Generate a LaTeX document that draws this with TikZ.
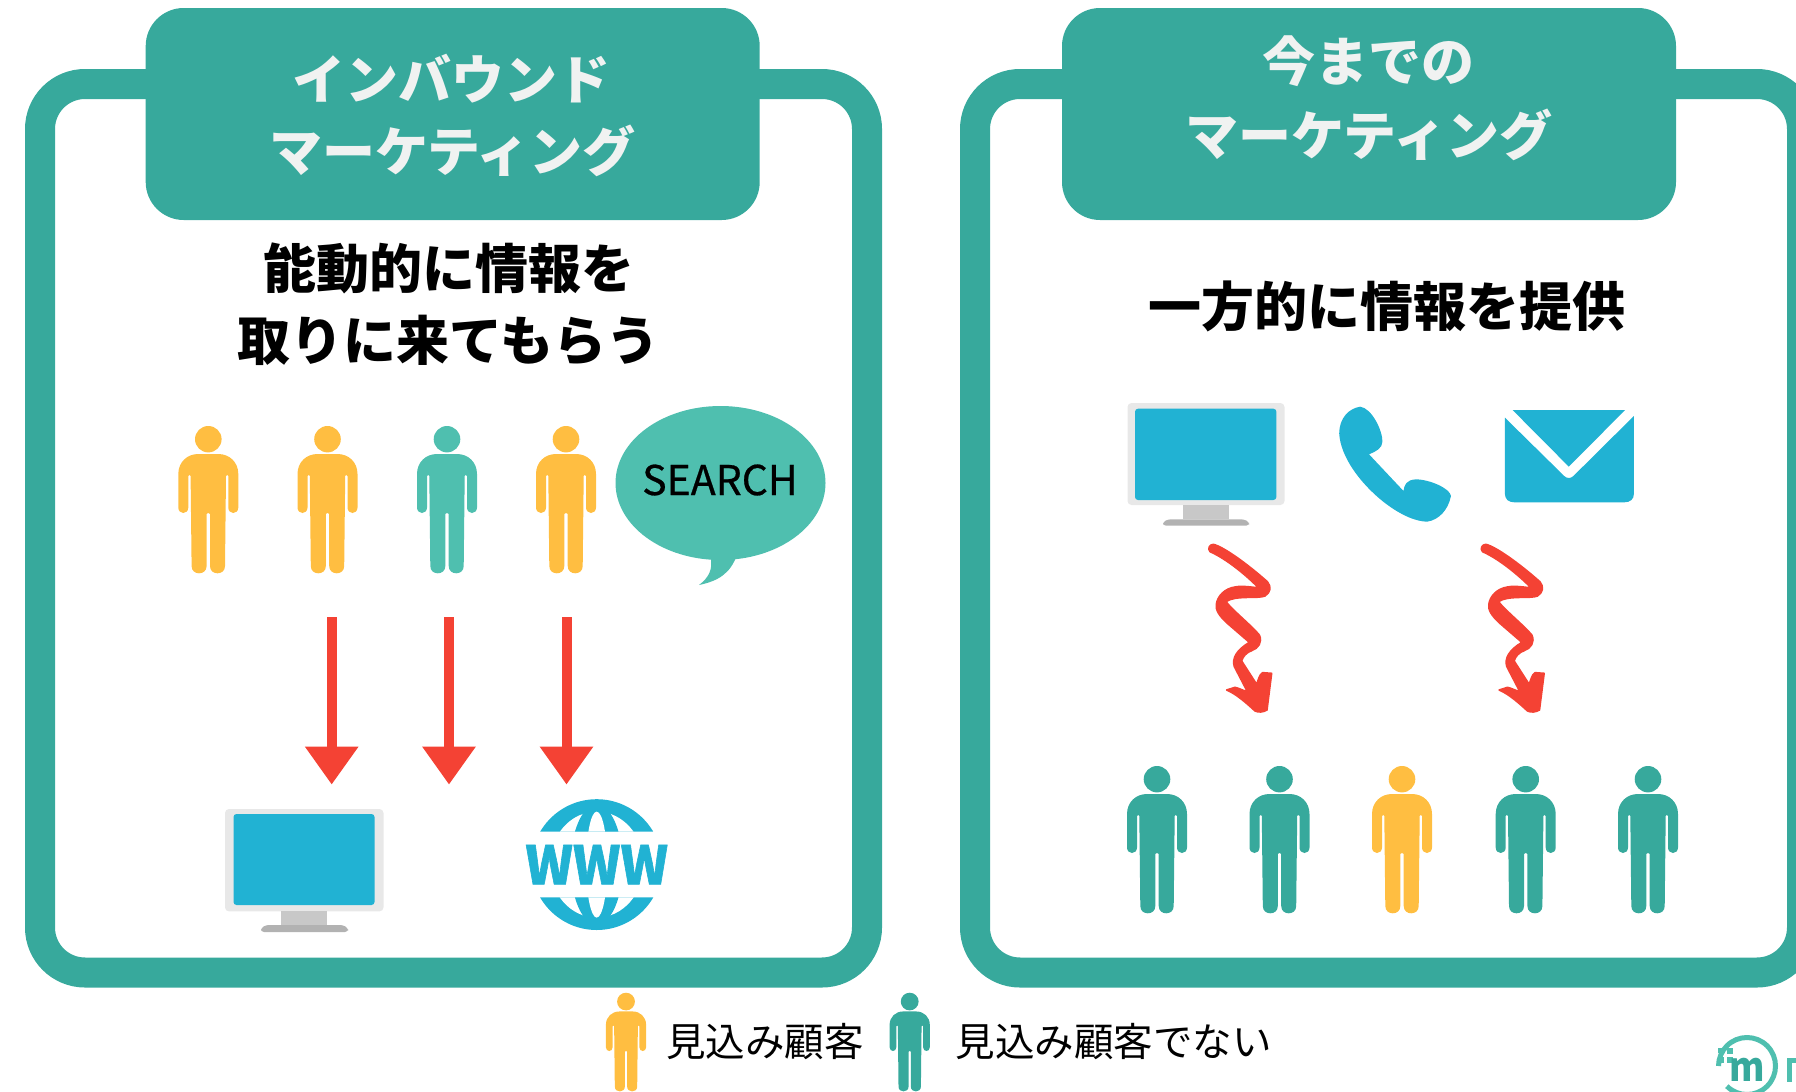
\documentclass[tikz,border=0pt]{standalone}
\usepackage{fontspec}
\setmainfont{Noto Sans CJK JP}
\newfontfamily\mediumfont{Noto Sans CJK JP}[FakeBold=0.6]
\newfontfamily\heavyfont{Noto Sans CJK JP}[BoldFeatures={FakeBold=1.2}]
\usetikzlibrary{arrows.meta}
\definecolor{tealD}{HTML}{37A99C}
\definecolor{tealL}{HTML}{4FBFAF}
\definecolor{yel}{HTML}{FFBE41}
\definecolor{blu}{HTML}{21B2D3}
\definecolor{redA}{HTML}{F44234}
\definecolor{frameG}{HTML}{E8E8E8}
\definecolor{neckG}{HTML}{C8C8C8}
\definecolor{baseG}{HTML}{B2B2B2}
\definecolor{titleW}{HTML}{F0F2F1}
\newcommand{\squigpath}{(70,28) .. controls (100,35) and (170,85) .. (232,140) .. controls (245,155) and (242,172) .. (225,183) .. controls (205,192) and (135,180) .. (108,200) .. controls (130,228) and (185,272) .. (208,300) .. controls (218,322) and (205,340) .. (185,347) .. controls (170,352) and (158,365) .. (155,378) -- (200,448) .. controls (205,435) and (208,418) .. (218,413) -- (245,415) -- (231,525) .. controls (220,532) and (205,533) .. (195,528) .. controls (170,505) and (140,478) .. (110,465) -- (135,457) .. controls (148,460) and (160,467) .. (172,470) -- (133,395) .. controls (125,370) and (140,345) .. (178,322) -- (112,265) .. controls (88,243) and (76,225) .. (79,208) .. controls (82,183) and (105,160) .. (135,156) .. controls (160,151) and (190,158) .. (205,158) .. controls (170,122) and (110,72) .. (60,50) .. controls (52,42) and (58,28) .. (70,28) -- cycle}
\tikzset{
  x=1pt,y=-1pt,
  frameline/.style={draw=tealD,line width=30pt,rounded corners=45pt},
  header/.style={fill=tealD,rounded corners=38pt,minimum width=614pt,minimum height=212pt,inner sep=0pt},
  titletext/.style={text=titleW,inner sep=0pt,font=\fontsize{53}{72}\selectfont\bfseries},
  heading/.style={text=black,align=center,inner sep=0pt,font=\fontsize{53}{72}\selectfont\bfseries},
  legendtext/.style={text=black,inner sep=0pt,anchor=west,font=\fontsize{39.5}{46}\selectfont},
  redarrow/.style={draw=redA,line width=10pt,-{Triangle[width=51pt,length=38pt]}},
  squiggle/.style={fill=redA,draw=redA,line width=1.6pt,line join=round},
  pics/person/.style={code={
    \fill[#1] (0,13.2) circle[x radius=13.3,y radius=13.2];
    \fill[#1] (0,28) -- (10,28) .. controls (21,28) and (30,36) .. (30,48) -- (30,81.5) .. controls (30,85) and (27.5,87) .. (25,87) .. controls (22.5,87) and (20,85) .. (20,81.5) -- (20,50) .. controls (20,48.5) and (17.7,48.5) .. (17.7,50) -- (16.7,140) .. controls (16.7,145) and (13,147.3) .. (9.2,147.3) .. controls (5.4,147.3) and (1.7,145) .. (1.7,140) -- (1.7,88) .. controls (1.7,86.5) and (-1.7,86.5) .. (-1.7,88) -- (-1.7,140) .. controls (-1.7,145) and (-5.4,147.3) .. (-9.2,147.3) .. controls (-13,147.3) and (-16.7,145) .. (-16.7,140) -- (-17.7,50) .. controls (-17.7,48.5) and (-20,48.5) .. (-20,50) -- (-20,81.5) .. controls (-20,85) and (-22.5,87) .. (-25,87) .. controls (-27.5,87) and (-30,85) .. (-30,81.5) -- (-30,48) .. controls (-30,36) and (-21,28) .. (-10,28) -- cycle;
  }}
}
\begin{document}
\begin{tikzpicture}
\useasboundingbox (0,0) rectangle (1796,1092);
\clip (0,0) rectangle (1796,1092);
% frames
\draw[frameline] (40,84) rectangle (867,972.5);
\draw[frameline] (975,84) rectangle (1802,972.5);
% headers
\node[header] (hL) at (452.7,114) {};
\node[header] (hR) at (1369,114) {};
\node[titletext] (tL1) at (451,79) {インバウンド};
\node[titletext] (tL2) at (452.5,151) {マーケティング};
\node[titletext] (tR1) at (1368,61) {今までの};
\node[titletext] (tR2) at (1369,135) {マーケティング};
% headings
\node[heading] (h1) at (449,268) {能動的に情報を};
\node[heading] (h2) at (448.5,340) {取りに来てもらう};
\node[heading] (h3) at (1387,306.5) {一方的に情報を提供};
% left persons
\pic at (208.3,426) {person=yel};
\pic at (327.5,426) {person=yel};
\pic at (447,426) {person=tealL};
\pic at (566,426) {person=yel};
% bubble
\fill[tealL] (720.5,483) circle[x radius=105,y radius=77];
\fill[tealL] (710,555) .. controls (714,570) and (708,578) .. (699,585) .. controls (718,581) and (730,574) .. (737,555) -- cycle;
\node[text=black,inner sep=0pt,font=\fontsize{41}{46}\selectfont\mediumfont] (search) at (720,480) {SEARCH};
% arrows
\coordinate (a1s) at (331.7,617); \coordinate (a1e) at (331.7,784.6);
\coordinate (a2s) at (449,617); \coordinate (a2e) at (449,784.6);
\coordinate (a3s) at (566.5,617); \coordinate (a3e) at (566.5,784.6);
\draw[redarrow] (a1s) -- (a1e);
\draw[redarrow] (a2s) -- (a2e);
\draw[redarrow] (a3s) -- (a3e);
% left monitor
\fill[frameG,rounded corners=4pt] (225,809) rectangle (383.5,911.4);
\fill[blu,rounded corners=3pt] (233.5,814) rectangle (374.5,905);
\fill[neckG] (281,911.4) rectangle (327,925);
\fill[baseG,rounded corners=3pt] (261,932) -- (261,928) -- (266,925) -- (343,925) -- (348,928) -- (348,932) -- cycle;
% globe
\begin{scope}
\clip (500,790) rectangle (700,831.7) (500,897.3) rectangle (700,940);
\fill[blu] (596.7,864.6) circle[radius=65.4];
\fill[white] (596.7,864.6) circle[x radius=47,y radius=53];
\fill[blu] (596.7,864.6) circle[x radius=26,y radius=60];
\fill[white] (596.7,864.6) circle[x radius=10.6,y radius=53];
\end{scope}
\node[text=blu,inner sep=0pt,anchor=base,xscale=.96,transform shape,font=\fontsize{53}{60}\heavyfont\bfseries] (www) at (596.7,884.3) {WWW};
% right monitor
\fill[frameG,rounded corners=4pt] (1127.5,403) rectangle (1284.5,505);
\fill[blu,rounded corners=3pt] (1135,408.7) rectangle (1276.4,500);
\fill[neckG] (1183,505) rectangle (1229,519.3);
\fill[baseG,rounded corners=3pt] (1163,525.7) -- (1163,522) -- (1168,519.3) -- (1244,519.3) -- (1249,522) -- (1249,525.7) -- cycle;
% phone, mail
\begin{scope}[shift={(1100,390)},xscale=0.3827,yscale=0.3333]
\fill[blu] (680,50) .. controls (650,55) and (625,85) .. (625,130) .. controls (628,200) and (680,280) .. (740,335) .. controls (790,380) and (830,395) .. (855,395) .. controls (885,390) and (910,360) .. (917,318) .. controls (915,295) and (860,268) .. (825,268) .. controls (800,270) and (795,285) .. (793,303) -- (703,193) .. controls (720,185) and (738,175) .. (738,155) .. controls (738,120) and (710,55) .. (680,50) -- cycle;
\fill[blu] (1078,60) -- (1372,60) -- (1225,230) -- cycle;
\fill[blu] (1058,83) -- (1213,258) .. controls (1220,266) and (1230,266) .. (1237,258) -- (1395,78) -- (1395,312) .. controls (1395,328) and (1385,337) .. (1370,337) -- (1083,337) .. controls (1068,337) and (1058,328) .. (1058,312) -- cycle;
\end{scope}
% squiggle arrows
\begin{scope}[shift={(1190,535)},scale=0.3333]
\path[squiggle] \squigpath;
\end{scope}
\begin{scope}[shift={(1462.5,535)},scale=0.3333]
\path[squiggle] \squigpath;
\end{scope}
% right persons
\pic at (1157,766) {person=tealD};
\pic at (1279.5,766) {person=tealD};
\pic at (1402,766) {person=yel};
\pic at (1525.7,766) {person=tealD};
\pic at (1648,766) {person=tealD};
% legend
\pic[scale=.67] at (626,992.7) {person=yel};
\pic[scale=.67] at (909.7,992.7) {person=tealD};
\node[legendtext] (l1) at (666,1041.5) {見込み顧客};
\node[legendtext] (l2) at (955.5,1041.5) {見込み顧客でない};
% logo
\draw[tealL,line width=5pt] (1747,1066) ++(135:28.5) arc[start angle=135,end angle=-180,radius=28.5];
\fill[tealL] (1718.3,1048.3) rectangle (1723,1052.7);
\fill[tealL] (1727.3,1048.3) rectangle (1732.7,1054);
\fill[tealL] (1717.7,1056.7) rectangle (1724,1063.3);
\fill[tealL] (1726.7,1056.7) rectangle (1733.3,1063.3);
\node[text=tealD,inner sep=0pt,anchor=base,xscale=.9,transform shape,font=\fontsize{40}{46}\selectfont\bfseries] (logom) at (1747.5,1081.7) {m};
\fill[tealL] (1787,1058) rectangle (1792,1082);
\fill[tealL] (1792,1058) rectangle (1796,1063);
\end{tikzpicture}
\end{document}
